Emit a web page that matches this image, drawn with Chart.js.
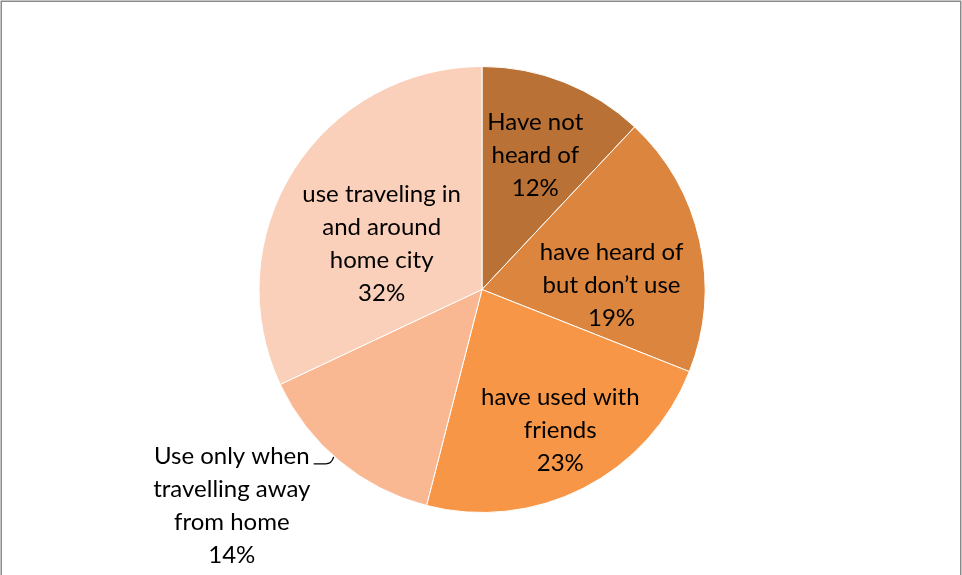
<!DOCTYPE html>
<html>
<head>
<meta charset="utf-8">
<script src="https://cdn.jsdelivr.net/npm/chart.js@4"></script>
<style>
  html, body { margin: 0; padding: 0; background: #fff; }
  #wrap { width: 962px; height: 575px; position: relative; }
</style>
</head>
<body>
<div id="wrap"><canvas id="pieChart" width="962" height="575"></canvas></div>
<script>
// slice categories, clockwise from 12 o'clock
const categories = [
  'Have not heard of',
  'have heard of but don\u2019t use',
  'have used with friends',
  'Use only when travelling away from home',
  'use traveling in and around home city'
];
const shares = [12, 19, 23, 14, 32];
const labelLines = [
  ['Have not', 'heard of'],
  ['have heard of', 'but don\u2019t use'],
  ['have used with', 'friends'],
  ['Use only when', 'travelling away', 'from home'],
  ['use traveling in', 'and around', 'home city']
];
const sliceColors = ['#B97135', '#DC853F', '#F79646', '#F9B792', '#FBD0BA'];

// label centre as fraction of radius, relative to pie centre
const labelAnchors = [
  [0.239, -0.604],
  [0.581, -0.018],
  [0.351, 0.631],
  [-1.122, 0.968],
  [-0.450, -0.207]
];

const labelPlugin = {
  id: 'pieLabels',
  afterDatasetsDraw(chart) {
    const ctx = chart.ctx;
    const arcs = chart.getDatasetMeta(0).data;
    const lineH = 33;
    ctx.save();
    ctx.font = '24px Lato, "Open Sans", sans-serif';
    ctx.fillStyle = '#000';
    ctx.textAlign = 'center';
    ctx.textBaseline = 'middle';
    arcs.forEach(function(arc, i) {
      const r = arc.outerRadius;
      const cx = arc.x + labelAnchors[i][0] * r;
      const cy = arc.y + labelAnchors[i][1] * r;
      const lines = labelLines[i].concat([shares[i] + '%']);
      const top = cy - (lines.length - 1) * lineH / 2;
      lines.forEach(function(t, k) {
        ctx.fillText(t, cx, top + k * lineH);
      });
      // leader line for the label placed outside the pie
      if (labelAnchors[i][0] < -1) {
        const w = ctx.measureText(lines[0]).width;
        const y0 = top + 8;
        const x0 = cx + w / 2 + 4;
        ctx.beginPath();
        ctx.strokeStyle = '#000';
        ctx.lineWidth = 1.3;
        ctx.moveTo(x0, y0);
        ctx.lineTo(x0 + 12, y0);
        ctx.quadraticCurveTo(x0 + 18, y0, x0 + 20, y0 - 7);
        ctx.stroke();
      }
    });
    ctx.restore();
  }
};

const framePlugin = {
  id: 'frame',
  afterDraw(chart) {
    const ctx = chart.ctx;
    ctx.save();
    ctx.strokeStyle = '#8a8a8a';
    ctx.lineWidth = 1.5;
    ctx.strokeRect(1.25, 1.25, chart.width - 2.5, chart.height + 10);
    ctx.restore();
  }
};

new Chart(document.getElementById('pieChart'), {
  type: 'pie',
  data: {
    labels: categories,
    datasets: [{
      data: shares,
      backgroundColor: sliceColors,
      borderColor: '#fff',
      borderWidth: 1
    }]
  },
  options: {
    responsive: false,
    animation: false,
    layout: { padding: { top: 66, bottom: 62, left: 2, right: 0 } },
    plugins: {
      legend: { display: false },
      tooltip: { enabled: false }
    }
  },
  plugins: [labelPlugin, framePlugin]
});
</script>
</body>
</html>
